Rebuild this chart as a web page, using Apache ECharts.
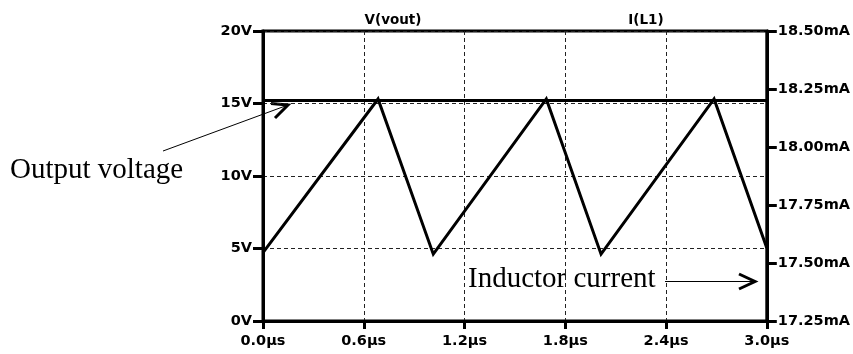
<!DOCTYPE html>
<html><head><meta charset="utf-8">
<script src="https://cdn.jsdelivr.net/npm/echarts@6/dist/echarts.min.js"></script>
<style>html,body{margin:0;padding:0;background:#fff}#c{width:853px;height:354px}</style>
</head><body><div id="c"></div>
<script>
// --- data ---
const currentTimeUs = [0, 0.685, 1.014, 1.687, 2.013, 2.686, 3.0];
const inductorCurrentMA = [17.545, 18.207, 17.538, 18.207, 17.538, 18.207, 17.565];
const voltageTimeUs = [0, 3.0];
const outputVoltageV = [15.2, 15.2];
const xTickLabels = ['0.0µs', '0.6µs', '1.2µs', '1.8µs', '2.4µs', '3.0µs'];
const leftTickLabels = ['0V', '5V', '10V', '15V', '20V'];
const rightTickLabels = ['17.25mA', '17.50mA', '17.75mA', '18.00mA', '18.25mA', '18.50mA'];
const traceNames = ['V(vout)', 'I(L1)'];
const annotations = ['Output voltage', 'Inductor current'];

const chart = echarts.init(document.getElementById('c'), null, {renderer: 'canvas'});
const tickFont = {fontFamily: 'DejaVu Sans', fontWeight: 'bold', fontSize: 14.5, color: '#000'};
const dash = {type: [4, 3], color: '#222', width: 1};

chart.setOption({
  animation: false,
  backgroundColor: '#fff',
  grid: {left: 263, right: 84, top: 31, bottom: 33, show: true, borderColor: '#000', borderWidth: 3, containLabel: false},
  title: [
    {text: traceNames[0], left: 388, top: 8, textAlign: 'center', textStyle: {fontFamily: 'DejaVu Sans', fontWeight: 'bold', fontSize: 13.5, color: '#000'}},
    {text: traceNames[1], left: 641, top: 8, textAlign: 'center', textStyle: {fontFamily: 'DejaVu Sans', fontWeight: 'bold', fontSize: 13.5, color: '#000'}}
  ],
  xAxis: {
    type: 'value', min: 0, max: 3, interval: 0.6,
    axisLine: {show: true, lineStyle: {color: '#000', width: 3}},
    axisTick: {show: true, length: 8, lineStyle: {color: '#000', width: 3}},
    axisLabel: {...tickFont, margin: 13, formatter: v => xTickLabels[Math.round(v / 0.6)]},
    splitLine: {show: true, lineStyle: dash}
  },
  yAxis: [
    {
      type: 'value', min: 0, max: 20, interval: 5, position: 'left',
      axisLine: {show: true, lineStyle: {color: '#000', width: 3}},
      axisTick: {show: true, length: 10, lineStyle: {color: '#000', width: 3}},
      axisLabel: {...tickFont, margin: 11, formatter: v => leftTickLabels[Math.round(v / 5)]},
      splitLine: {show: true, lineStyle: dash}
    },
    {
      type: 'value', min: 17.25, max: 18.5, interval: 0.25, position: 'right',
      axisLine: {show: true, lineStyle: {color: '#000', width: 3}},
      axisTick: {show: true, length: 10, lineStyle: {color: '#000', width: 3}},
      axisLabel: {...tickFont, margin: 11, formatter: v => rightTickLabels[Math.round((v - 17.25) / 0.25)]},
      splitLine: {show: false}
    }
  ],
  series: [
    {
      name: traceNames[0], type: 'line', yAxisIndex: 0, showSymbol: false,
      data: voltageTimeUs.map((t, i) => [t, outputVoltageV[i]]),
      lineStyle: {color: '#000', width: 3}
    },
    {
      name: traceNames[1], type: 'line', yAxisIndex: 1, showSymbol: false,
      data: currentTimeUs.map((t, i) => [t, inductorCurrentMA[i]]),
      lineStyle: {color: '#000', width: 3, join: 'miter'}
    }
  ],
  graphic: [
    {type: 'text', left: 10, top: 156, style: {text: annotations[0], fontFamily: 'Liberation Serif', fontSize: 29, fill: '#000'}},
    {type: 'line', shape: {x1: 163, y1: 151, x2: 288, y2: 105}, style: {stroke: '#000', lineWidth: 1}},
    {type: 'polyline', shape: {points: [[271, 103.5], [288, 105], [275, 118]]}, style: {stroke: '#000', lineWidth: 3, fill: null}},
    {type: 'text', left: 468, top: 265, style: {text: annotations[1], fontFamily: 'Liberation Serif', fontSize: 29, fill: '#000'}},
    {type: 'line', shape: {x1: 665, y1: 281.5, x2: 755, y2: 281.5}, style: {stroke: '#000', lineWidth: 1}},
    {type: 'polyline', shape: {points: [[739, 274], [755, 281.5], [739, 289]]}, style: {stroke: '#000', lineWidth: 3, fill: null}}
  ]
});
</script></body></html>
